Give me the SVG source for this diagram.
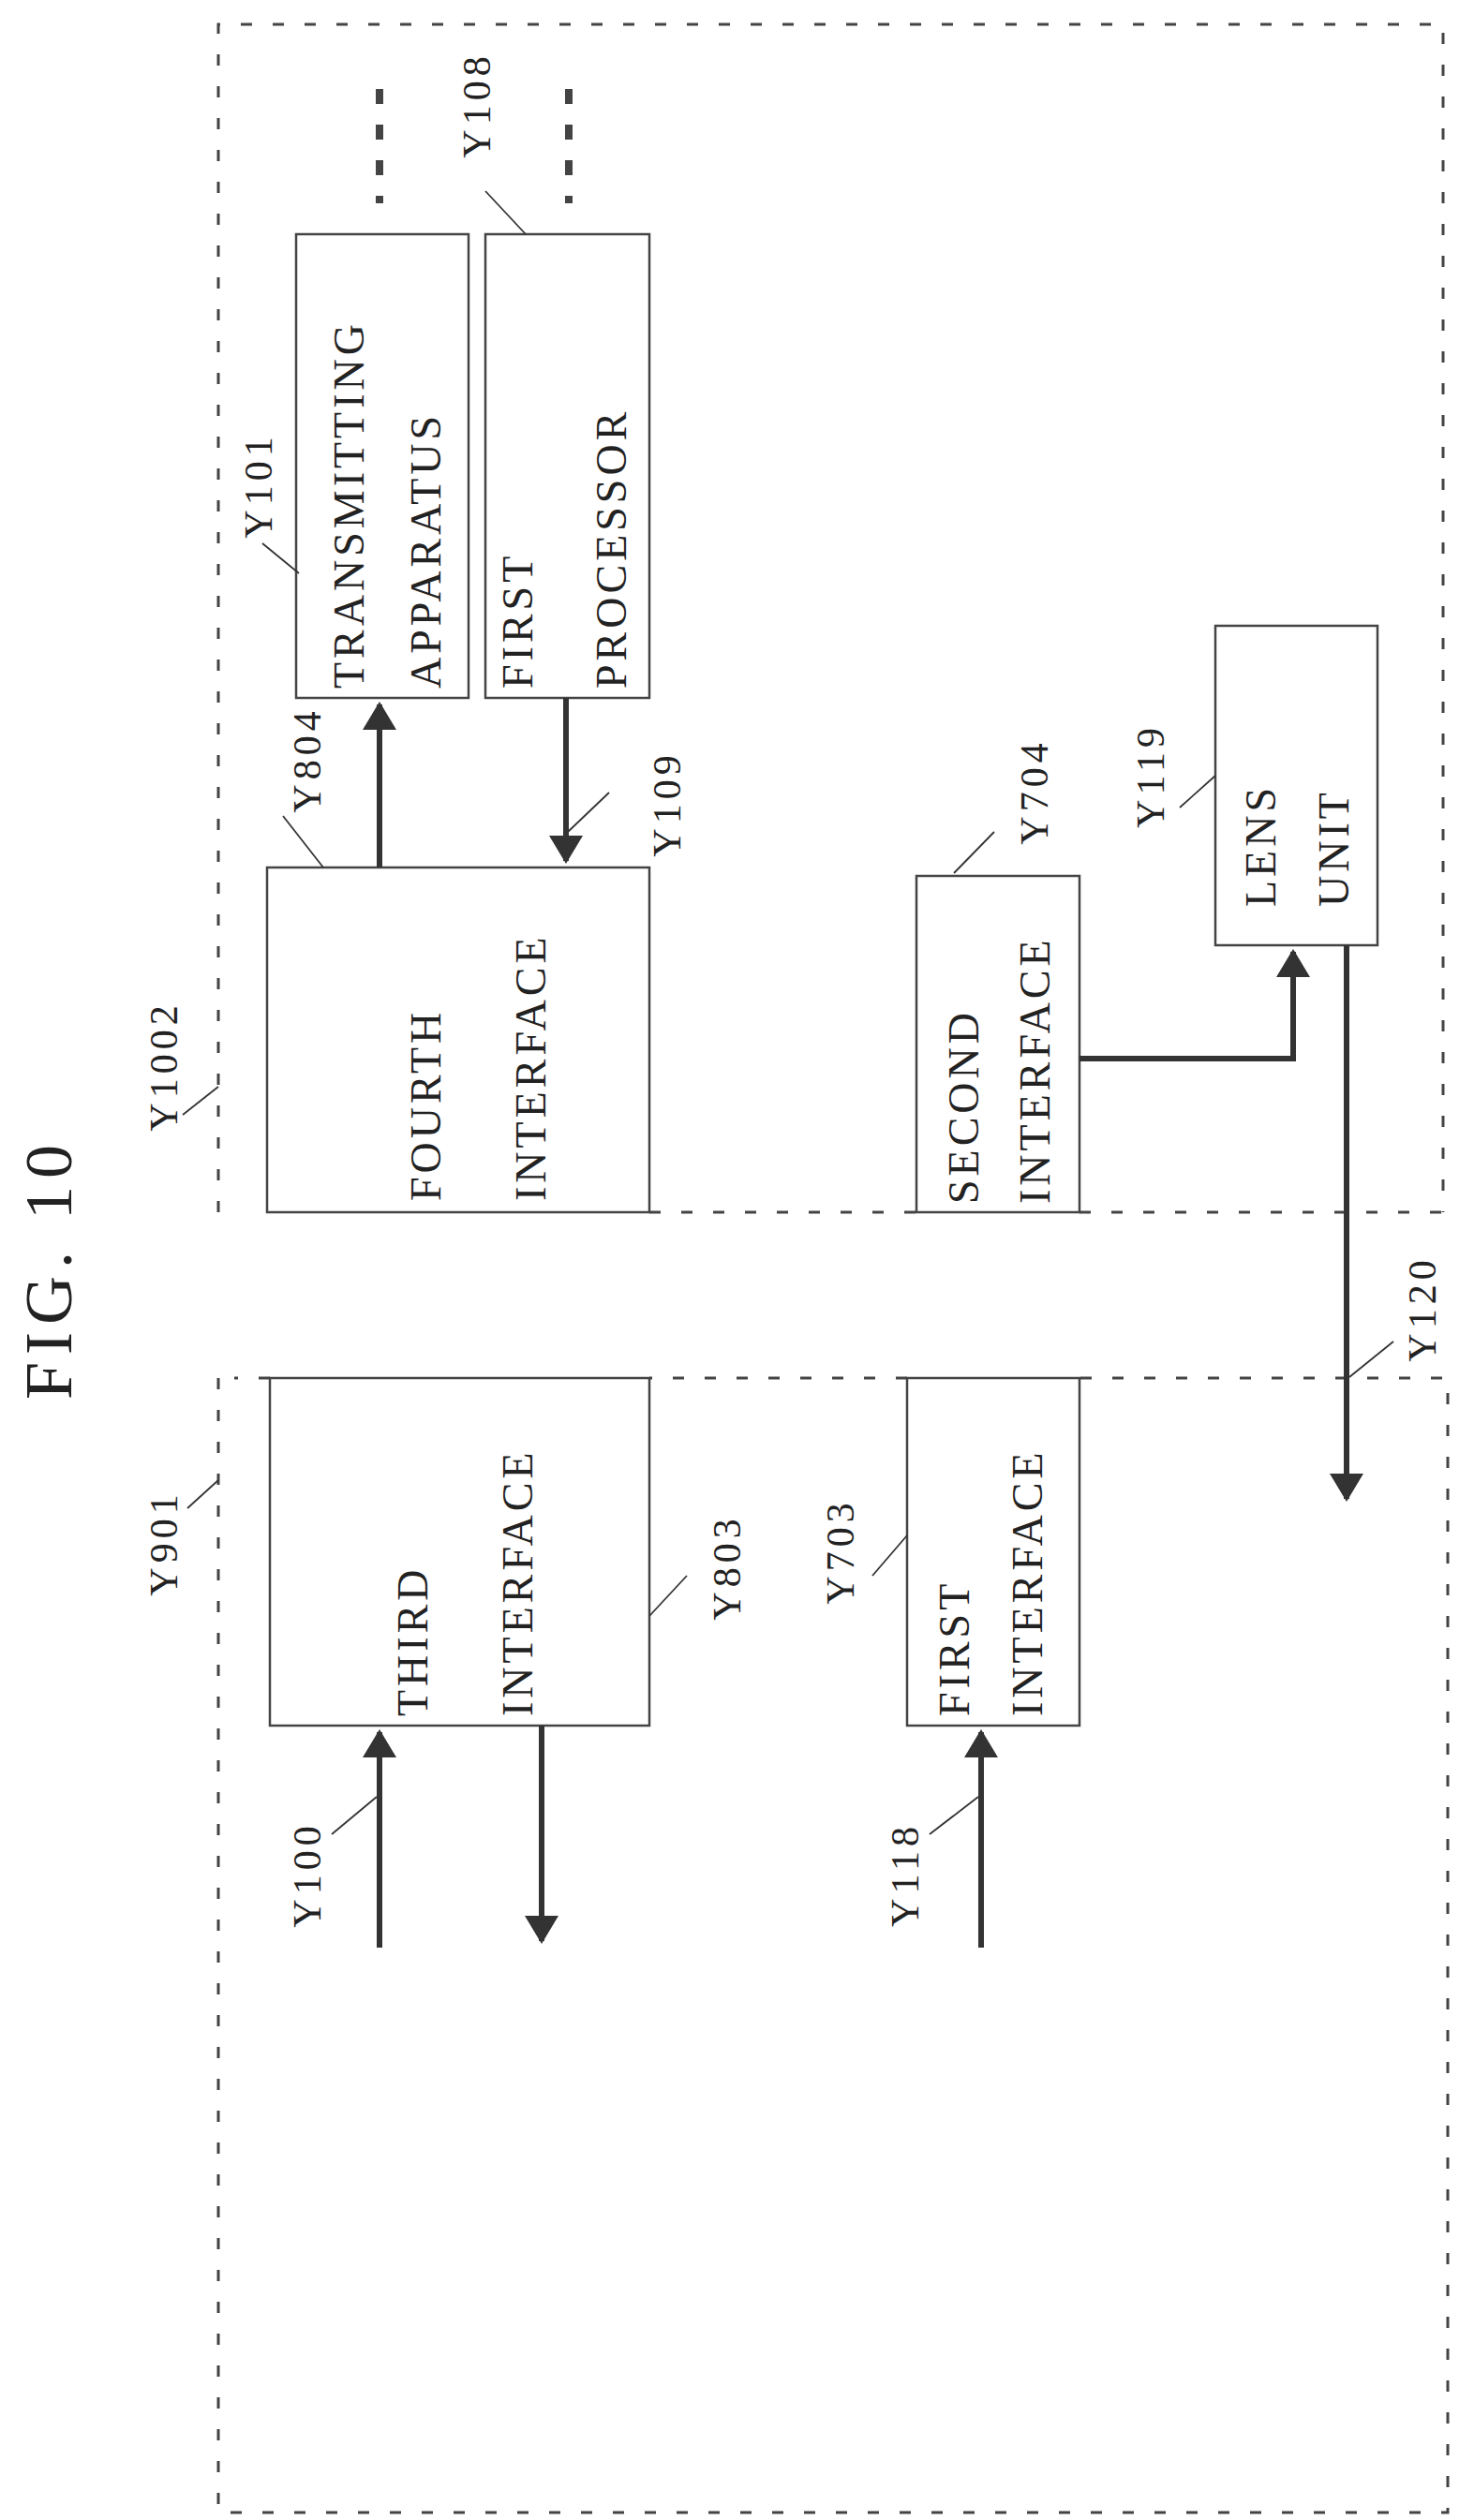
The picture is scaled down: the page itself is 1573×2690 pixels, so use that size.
<svg xmlns="http://www.w3.org/2000/svg" width="1573" height="2690" viewBox="0 0 1573 2690">
<style>
text{font-family:"Liberation Serif","DejaVu Serif",serif;fill:#222}
.t{font-size:46px;letter-spacing:4px;dominant-baseline:central}
.l{font-size:42px;letter-spacing:5px;dominant-baseline:central;text-anchor:middle}
.box{fill:#fff;stroke:#444;stroke-width:2.5}
.dash{fill:none;stroke:#444;stroke-width:3;stroke-dasharray:12 22}
.thick{fill:none;stroke:#444;stroke-width:8;stroke-dasharray:16 22}
.ar{fill:none;stroke:#333;stroke-width:6}
.ld{fill:none;stroke:#333;stroke-width:1.8}
</style>
<defs>
<marker id="ah" markerWidth="6" markerHeight="6" refX="4.5" refY="3" orient="auto" markerUnits="strokeWidth">
<path d="M0,0 L5,3 L0,6 Z" fill="#333"/>
</marker>
</defs>
<rect width="1573" height="2690" fill="#fff"/>
<text transform="translate(52,1354) rotate(-90)" font-size="72" letter-spacing="8" text-anchor="middle" dominant-baseline="central">FIG. 10</text>
<g id="Y1002">
<path class="dash" d="M233,1294 L233,26 L1540,26 L1540,1294 M693,1294 L978,1294 M1152,1294 L1540,1294"/>
<path class="thick" d="M405,95 L405,217 M607,95 L607,217"/>
<text class="l" transform="translate(175,1138) rotate(-90)">Y1002</text>
<path class="ld" d="M195,1190 L233,1160"/>
</g>
<g id="Y901">
<path class="dash" d="M233,1471 L233,2682 L1545,2682 L1545,1471 L1152,1471 M968,1471 L693,1471 M288,1471 L250,1471"/>
<text class="l" transform="translate(175,1647) rotate(-90)">Y901</text>
<path class="ld" d="M200,1610 L233,1580"/>
</g>
<g id="Y101">
<rect class="box" x="316" y="250" width="184" height="495"/>
<text class="t" transform="translate(412,735) rotate(-90)"><tspan x="0" y="-40">TRANSMITTING</tspan><tspan x="0" y="42">APPARATUS</tspan></text>
<text class="l" transform="translate(276,518) rotate(-90)">Y101</text>
<path class="ld" d="M280,580 L319,612"/>
</g>
<g id="Y108">
<rect class="box" x="518" y="250" width="175" height="495"/>
<text class="t" transform="translate(602,735) rotate(-90)"><tspan x="0" y="-50">FIRST</tspan><tspan x="0" y="50">PROCESSOR</tspan></text>
<text class="l" transform="translate(509,112) rotate(-90)">Y108</text>
<path class="ld" d="M518,204 L561,250"/>
</g>
<g id="Y804">
<rect class="box" x="285" y="926" width="408" height="368"/>
<text class="t" transform="translate(510,1282) rotate(-90)"><tspan x="0" y="-56">FOURTH</tspan><tspan x="0" y="56">INTERFACE</tspan></text>
<text class="l" transform="translate(328,811) rotate(-90)">Y804</text>
<path class="ld" d="M302,871 L345,926"/>
</g>
<g id="Y704">
<rect class="box" x="978" y="935" width="174" height="359"/>
<text class="t" transform="translate(1066,1285) rotate(-90)"><tspan x="0" y="-38">SECOND</tspan><tspan x="0" y="38">INTERFACE</tspan></text>
<text class="l" transform="translate(1104,845) rotate(-90)">Y704</text>
<path class="ld" d="M1018,932 L1061,888"/>
</g>
<g id="Y119">
<rect class="box" x="1297" y="668" width="173" height="341"/>
<text class="t" transform="translate(1384,968) rotate(-90)"><tspan x="0" y="-39">LENS</tspan><tspan x="0" y="39">UNIT</tspan></text>
<text class="l" transform="translate(1228,828) rotate(-90)">Y119</text>
<path class="ld" d="M1259,862 L1297,828"/>
</g>
<g id="Y803">
<rect class="box" x="288" y="1471" width="405" height="371"/>
<text class="t" transform="translate(496,1832) rotate(-90)"><tspan x="0" y="-56">THIRD</tspan><tspan x="0" y="56">INTERFACE</tspan></text>
<text class="l" transform="translate(776,1673) rotate(-90)">Y803</text>
<path class="ld" d="M693,1725 L733,1682"/>
</g>
<g id="Y703">
<rect class="box" x="968" y="1471" width="184" height="371"/>
<text class="t" transform="translate(1057,1832) rotate(-90)"><tspan x="0" y="-39">FIRST</tspan><tspan x="0" y="39">INTERFACE</tspan></text>
<text class="l" transform="translate(897,1656) rotate(-90)">Y703</text>
<path class="ld" d="M931,1682 L968,1639"/>
</g>
<g id="connectors">
<path class="ar" d="M405,926 L405,752" marker-end="url(#ah)"/>
<path class="ar" d="M604,745 L604,919" marker-end="url(#ah)"/>
<path class="ar" d="M1152,1130 L1380,1130 L1380,1016" marker-end="url(#ah)"/>
<path class="ar" d="M1437,1009 L1437,1600" marker-end="url(#ah)"/>
<path class="ar" d="M405,2079 L405,1849" marker-end="url(#ah)"/>
<path class="ar" d="M578,1842 L578,2072" marker-end="url(#ah)"/>
<path class="ar" d="M1047,2079 L1047,1849" marker-end="url(#ah)"/>
<text class="l" transform="translate(712,858) rotate(-90)">Y109</text>
<path class="ld" d="M606,888 L650,846"/>
<text class="l" transform="translate(1518,1397) rotate(-90)">Y120</text>
<path class="ld" d="M1440,1470 L1487,1432"/>
<text class="l" transform="translate(328,2001) rotate(-90)">Y100</text>
<path class="ld" d="M354,1958 L402,1918"/>
<text class="l" transform="translate(966,2001) rotate(-90)">Y118</text>
<path class="ld" d="M992,1958 L1044,1918"/>
</g>
</svg>
